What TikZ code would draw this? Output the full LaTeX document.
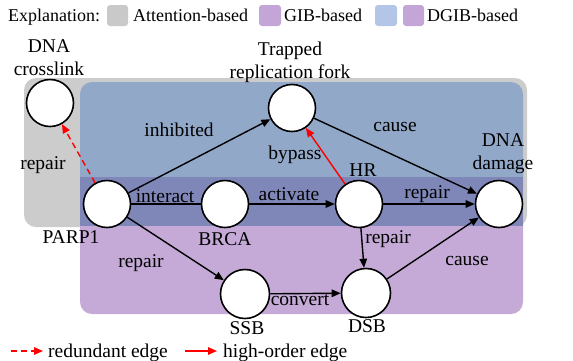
\documentclass[tikz,border=0pt]{standalone}
\usepackage{fontspec}
\setmainfont{Liberation Serif}
\usetikzlibrary{arrows.meta}
\definecolor{attngray}{HTML}{CCCCCC}
\definecolor{dgibblue}{HTML}{92A8C8}
\definecolor{gibpurple}{HTML}{C5AAD7}
\definecolor{bothband}{HTML}{7F87B9}
\definecolor{keygray}{HTML}{C9C9C9}
\definecolor{keyblue}{HTML}{B4C6E7}
\definecolor{keypurple}{HTML}{C3A6D7}
\begin{document}
\begin{tikzpicture}[
    x=1pt, y=-1pt,
    every node/.style={font=\fontsize{19.5}{23}\selectfont},
    entity/.style={circle, draw=black, line width=1.6pt, fill=white, minimum size=47pt, inner sep=0pt},
    txt/.style={inner sep=0pt, align=center},
    keytxt/.style={inner sep=0pt, anchor=base west, font=\fontsize{18}{21}\selectfont},
    swatch/.style={rounded corners=3pt},
    rel/.style={line width=1.4pt, -{Triangle[length=9pt,width=7.5pt]}},
    redundant/.style={rel, red, dash pattern=on 6pt off 4pt},
    highorder/.style={rel, red}
]
\useasboundingbox (0,0) rectangle (573,360);

% regions
\fill[attngray, rounded corners=12pt] (24,78) rectangle (527,227);
\fill[gibpurple, rounded corners=12pt] (80,150) rectangle (523,314);
\fill[dgibblue, rounded corners=12pt] (80,82) rectangle (523,200);
\fill[bothband] (80,177) rectangle (523,226);

% legend
\node[keytxt] (expl) at (8,21) {Explanation:};
\fill[keygray, swatch] (107,5) rectangle (128,26);
\node[keytxt] (kattn) at (133,21) {Attention-based};
\fill[keypurple, swatch] (259,5) rectangle (281,26);
\node[keytxt] (kgib) at (284,21) {GIB-based};
\fill[keyblue, swatch] (375,5) rectangle (397,26);
\fill[keypurple, swatch] (403,5) rectangle (424,26);
\node[keytxt] (kdgib) at (427,21) {DGIB-based};

% entities
\node[entity] (dnacl) at (50,103) {};
\node[entity] (parp) at (107,204) {};
\node[entity] (trap) at (292,108) {};
\node[entity] (brca) at (225,204) {};
\node[entity] (hr) at (359,204) {};
\node[entity] (dmg) at (499,204) {};
\node[entity, minimum size=49pt] (ssb) at (245,294) {};
\node[entity, minimum size=49pt] (dsb) at (366,293) {};

\node[txt] (tdnacl) at (49,58) {DNA\\crosslink};
\node[txt] (tparp) at (71,237) {PARP1};
\node[txt] (ttrap) at (290,62) {Trapped\\replication fork};
\node[txt] (tbrca) at (225,239) {BRCA};
\node[txt] (thr) at (363,170) {HR};
\node[txt] (tdmg) at (503,154) {DNA\\damage};
\node[txt] (tssb) at (247,328) {SSB};
\node[txt] (tdsb) at (367,326) {DSB};

% relations
\draw[rel] (parp) -- (trap);
\draw[line width=1.4pt] (parp) -- (brca);
\draw[rel] (brca) -- (hr);
\draw[rel] (hr) -- (dmg);
\draw[rel] (trap) -- (dmg);
\draw[rel] (hr) -- (dsb);
\draw[rel] (parp) -- (ssb);
\draw[rel] (ssb) -- (dsb);
\draw[rel] (dsb) -- (dmg);
\draw[highorder] (hr) -- (trap);
\draw[redundant] (parp) -- (dnacl);

\node[txt] (linhib) at (179,130) {inhibited};
\node[txt] (linter) at (165,196) {interact};
\node[txt] (lactiv) at (289,194) {activate};
\node[txt] (lrephr) at (427,194) {repair};
\node[txt] (lcausetop) at (395,127) {cause};
\node[txt] (lbypass) at (295,155) {bypass};
\node[txt] (lrepdsb) at (388,239) {repair};
\node[txt] (lrepssb) at (141,263) {repair};
\node[txt] (lconv) at (300,300) {convert};
\node[txt] (lcausebot) at (467,261) {cause};
\node[txt] (lrepcl) at (43,165) {repair};

% edge key
\coordinate (ka) at (11,351);
\coordinate (kb) at (43,351);
\coordinate (kc) at (185,351);
\coordinate (kd) at (217,351);
\draw[redundant] (ka) -- (kb);
\node[keytxt, font=\fontsize{19.5}{23}\selectfont] (kred) at (48,357) {redundant edge};
\draw[highorder] (kc) -- (kd);
\node[keytxt, font=\fontsize{19.5}{23}\selectfont] (khigh) at (223,357) {high-order edge};
\end{tikzpicture}
\end{document}
